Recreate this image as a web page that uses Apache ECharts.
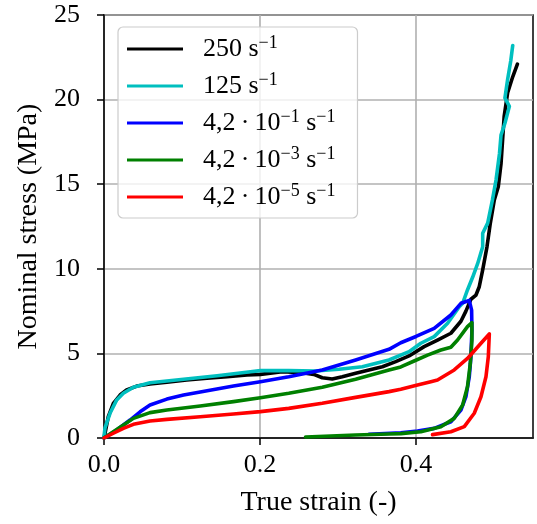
<!DOCTYPE html>
<html><head><meta charset="utf-8">
<script src="https://cdn.jsdelivr.net/npm/echarts@6/dist/echarts.min.js"></script>
<style>html,body{margin:0;padding:0;background:#fff}#c{width:537px;height:524px}</style>
</head><body><div id="c"></div>
<script>
// ---- data (true strain, nominal stress MPa) ----
const seriesNames = ['250 s-1', '125 s-1', '4,2e-1 s-1', '4,2e-3 s-1', '4,2e-5 s-1'];
const legendLabels = [
  '{g|}{t|250 s}{u|\u22121}',
  '{g|}{t|125 s}{u|\u22121}',
  '{g|}{t|4,2\u2009\u00b7\u200910}{u|\u22121}{t| s}{u|\u22121}',
  '{g|}{t|4,2\u2009\u00b7\u200910}{u|\u22123}{t| s}{u|\u22121}',
  '{g|}{t|4,2\u2009\u00b7\u200910}{u|\u22125}{t| s}{u|\u22121}'
];
const xTicks = [0, 0.2, 0.4];
const yTicks = [0, 5, 10, 15, 20, 25];

const rate250 = [[0,0],[0.0013,0.28],[0.0055,1.26],[0.012,2.05],[0.0206,2.54],[0.029,2.84],[0.042,3.07],[0.059,3.19],[0.0806,3.29],[0.106,3.43],[0.132,3.53],[0.158,3.62],[0.1834,3.72],[0.2005,3.76],[0.2284,3.92],[0.2541,3.86],[0.269,3.76],[0.2798,3.56],[0.2926,3.49],[0.3055,3.62],[0.3226,3.82],[0.3397,4.02],[0.3569,4.21],[0.374,4.51],[0.3911,4.85],[0.4104,5.4],[0.4276,5.79],[0.4447,6.19],[0.4576,6.9],[0.464,7.5],[0.4704,8.2],[0.4769,8.45],[0.4811,8.94],[0.4855,9.93],[0.491,11.3],[0.4953,12.7],[0.5004,14.07],[0.5055,14.85],[0.509,16.2],[0.511,17.6],[0.513,19.0],[0.5175,20.4],[0.524,21.35],[0.530,22.1]];
const rate125 = [[0,0.1],[0.0013,0.6],[0.0077,1.46],[0.0163,2.25],[0.0248,2.64],[0.0377,3.0],[0.059,3.27],[0.102,3.47],[0.145,3.68],[0.1877,3.92],[0.2005,3.98],[0.2369,3.98],[0.2712,3.96],[0.3012,4.06],[0.3312,4.21],[0.3654,4.61],[0.3911,5.1],[0.4062,5.6],[0.4233,5.99],[0.4405,6.78],[0.4555,7.76],[0.4598,7.96],[0.466,8.75],[0.4726,9.5],[0.479,10.3],[0.4855,11.3],[0.4855,12.1],[0.4919,12.7],[0.498,14.07],[0.5026,15.25],[0.507,16.8],[0.509,17.9],[0.514,18.6],[0.5197,19.6],[0.514,20.1],[0.5175,21.2],[0.5215,22.3],[0.524,23.2]];
const rate42e1 = [[0,0],[0.0013,0.04],[0.0163,0.47],[0.0334,1.06],[0.0463,1.55],[0.059,1.95],[0.0806,2.3],[0.102,2.54],[0.1234,2.72],[0.166,3.07],[0.2005,3.33],[0.2369,3.62],[0.2798,4.02],[0.3226,4.61],[0.3654,5.24],[0.3805,5.63],[0.4,6.0],[0.4233,6.48],[0.4447,7.27],[0.4576,7.96],[0.4683,8.13],[0.4713,7.56],[0.4717,6.38],[0.4704,4.8],[0.4683,3.62],[0.464,2.44],[0.4576,1.65],[0.4447,0.96],[0.4233,0.57],[0.4019,0.41],[0.3805,0.31],[0.3397,0.22]];
const rate42e3 = [[0,0],[0.0206,0.63],[0.0377,1.16],[0.059,1.5],[0.0806,1.65],[0.1234,1.89],[0.166,2.15],[0.2005,2.38],[0.2369,2.64],[0.2798,3.0],[0.3226,3.47],[0.3654,4.02],[0.3805,4.2],[0.3976,4.55],[0.4148,4.9],[0.4319,5.2],[0.4447,5.36],[0.4533,5.79],[0.466,6.58],[0.4717,6.82],[0.4717,5.79],[0.4696,4.4],[0.466,3.03],[0.4598,1.95],[0.449,1.16],[0.4319,0.67],[0.4062,0.37],[0.3805,0.26],[0.3654,0.24],[0.3226,0.18],[0.2584,0.06]];
const rate42e5 = [[0,0],[0.012,0.28],[0.0248,0.57],[0.0377,0.81],[0.059,1.0],[0.0806,1.1],[0.1234,1.26],[0.166,1.42],[0.2005,1.56],[0.2369,1.75],[0.2798,2.05],[0.3226,2.4],[0.3654,2.74],[0.3805,2.88],[0.4019,3.13],[0.419,3.33],[0.4276,3.43],[0.449,4.02],[0.466,4.7],[0.4833,5.6],[0.494,6.15],[0.4927,4.8],[0.4897,3.62],[0.4833,2.44],[0.4747,1.46],[0.4619,0.67],[0.4447,0.37],[0.4212,0.2]];

const allData = [rate250, rate125, rate42e1, rate42e3, rate42e5];
const colors = ['#000000', '#00bfbf', '#0000ff', '#008000', '#ff0000'];

const FONT = 'Liberation Serif';
const chart = echarts.init(document.getElementById('c'), null, {renderer: 'canvas'});
const labelOf = {};
seriesNames.forEach((n, i) => { labelOf[n] = legendLabels[i]; });

chart.setOption({
  animation: false,
  backgroundColor: '#ffffff',
  grid: {left: 104, right: 4, top: 15, bottom: 86, show: true, borderColor: '#000', borderWidth: 1.5, backgroundColor: 'transparent'},
  xAxis: {
    type: 'value', min: 0, max: 0.55, interval: 0.2,
    name: 'True strain (-)', nameLocation: 'middle', nameGap: 51,
    nameTextStyle: {fontFamily: FONT, fontSize: 28, color: '#000'},
    axisLine: {show: true, onZero: false, lineStyle: {color: '#000', width: 1.5}},
    axisTick: {show: true, length: 7, lineStyle: {color: '#000', width: 1.5}, customValues: xTicks},
    axisLabel: {fontFamily: FONT, fontSize: 26, color: '#000', margin: 14, customValues: xTicks,
      formatter: v => v.toFixed(1)},
    splitLine: {show: true, lineStyle: {color: '#b0b0b0', width: 1.6}}
  },
  yAxis: {
    type: 'value', min: 0, max: 25, interval: 5,
    name: 'Nominal stress (MPa)', nameLocation: 'middle', nameGap: 60,
    nameTextStyle: {fontFamily: FONT, fontSize: 28, color: '#000'},
    axisLine: {show: true, onZero: false, lineStyle: {color: '#000', width: 1.5}},
    axisTick: {show: true, length: 7, lineStyle: {color: '#000', width: 1.5}, customValues: yTicks},
    axisLabel: {fontFamily: FONT, fontSize: 26, color: '#000', margin: 24, customValues: yTicks},
    splitLine: {show: true, lineStyle: {color: '#b0b0b0', width: 1.6}}
  },
  legend: {
    orient: 'vertical', left: 118, top: 27,
    data: seriesNames, selectedMode: false,
    icon: 'rect', itemWidth: 56, itemHeight: 3, itemGap: 9,
    padding: [7, 22, 8, 9],
    backgroundColor: 'rgba(255,255,255,0.8)', borderColor: '#cccccc', borderWidth: 1.2, borderRadius: 5,
    formatter: name => labelOf[name],
    textStyle: {
      fontFamily: FONT, fontSize: 26, color: '#000',
      rich: {
        g: {width: 15, fontSize: 26, lineHeight: 30, fontFamily: FONT},
        t: {fontSize: 26, lineHeight: 30, fontFamily: FONT, color: '#000'},
        u: {fontSize: 18, lineHeight: 19, verticalAlign: 'top', fontFamily: FONT, color: '#000'}
      }
    }
  },
  series: allData.map((d, i) => ({
    name: seriesNames[i], type: 'line', data: d,
    showSymbol: false, symbol: 'none', smooth: false,
    lineStyle: {color: colors[i], width: 3.6, join: 'round', cap: 'round'},
    itemStyle: {color: colors[i]},
    z: 2 + i
  }))
});
</script></body></html>
